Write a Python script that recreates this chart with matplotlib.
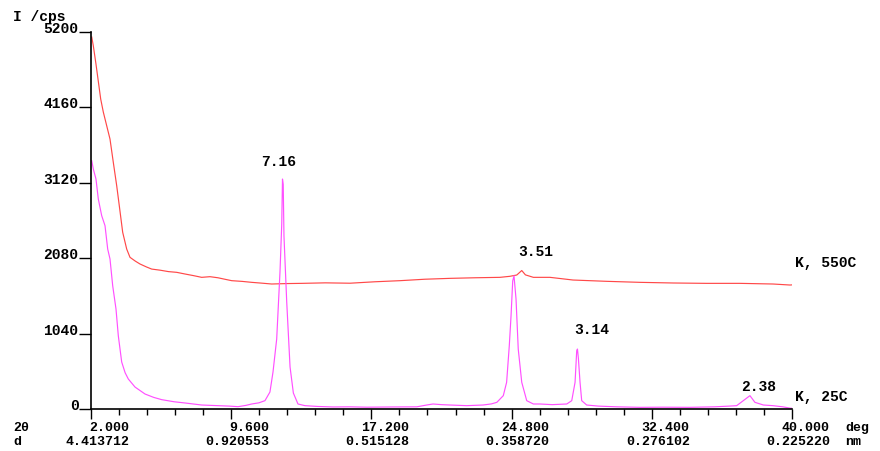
import matplotlib
matplotlib.use("Agg")
import matplotlib.pyplot as plt
import matplotlib.transforms as mtransforms
import numpy as np

# ---- data ----
red_tth = [2.04, 2.125, 2.27, 2.526, 2.667, 2.851, 3.03, 3.209, 3.393, 3.534, 3.718, 3.935,
           4.114, 4.40, 4.656, 5.00, 5.29, 5.74, 6.2, 6.646, 7.096, 7.55, 8.0, 8.45, 8.884,
           9.25, 9.627, 10.2, 10.711, 11.3, 11.795, 12.6, 13.42, 14.7, 16.04, 17.4, 18.75,
           20.1, 21.46, 22.8, 24.17, 24.7, 25.08, 25.35, 25.55, 25.98, 26.88, 28.13, 29.955,
           31.76, 33.565, 35.376, 37.18, 38.97, 39.89, 40.0]
red_int = [5130, 5010, 4757, 4275, 4096, 3907, 3723, 3402, 3080, 2803, 2437, 2206,
           2092, 2040, 2000, 1960, 1930, 1915, 1895, 1885, 1862, 1840, 1816, 1825, 1810,
           1790, 1770, 1760, 1747, 1735, 1724, 1730, 1733, 1740, 1735, 1755, 1770,
           1790, 1802, 1810, 1816, 1830, 1848, 1910, 1850, 1816, 1816, 1779, 1761,
           1747, 1738, 1733, 1733, 1724, 1710, 1712]

mag_tth = [2.04, 2.125, 2.27, 2.396, 2.58, 2.76, 2.905, 3.03, 3.176, 3.355, 3.48, 3.664,
           3.85, 4.022, 4.385, 4.927, 5.4, 5.83, 6.5, 7.096, 8.0, 8.884, 9.5, 9.97, 10.4,
           10.71, 11.1, 11.43, 11.70, 11.866, 12.066, 12.245, 12.34, 12.38, 12.42, 12.46,
           12.61, 12.79, 12.97, 13.22, 13.6, 14.3, 15.12, 16.0, 16.95, 18.3, 19.66, 20.2,
           20.54, 21.0, 21.46, 22.37, 23.25, 23.7, 24.0, 24.35, 24.53, 24.675, 24.77, 24.86,
           24.93, 25.04, 25.16, 25.35, 25.62, 25.98, 26.34, 27.0, 27.79, 28.06, 28.24, 28.33,
           28.37, 28.42, 28.51, 28.60, 28.87, 29.5, 30.5, 31.76, 33.0, 34.47, 35.8, 36.6,
           37.0, 37.36, 37.72, 37.99, 38.45, 38.97, 39.5, 39.89, 40.0]
mag_int = [3424, 3310, 3172, 2896, 2666, 2528, 2206, 2069, 1700, 1379, 1011, 648,
           500, 414, 303, 207, 160, 129, 100, 83, 55, 46, 40, 32, 50,
           69, 85, 115, 234, 510, 965, 1890, 2550, 3172, 3100, 2390,
           1475, 580, 220, 69, 46, 35, 28, 30, 25, 28, 30, 55,
           69, 60, 55, 46, 55, 70, 92, 184, 368, 873, 1287, 1765,
           1838, 1517, 827, 368, 115, 69, 69, 60, 69, 115, 368, 804,
           827, 700, 368, 115, 55, 40, 30, 23, 25, 23, 30, 40,
           46, 115, 184, 92, 55, 46, 30, 12, 10]

x_major = [2.0, 9.6, 17.2, 24.8, 32.4, 40.0]
x_labels = ["2.000", "9.600", "17.200", "24.800", "32.400", "40.000"]
d_labels = ["4.413712", "0.920553", "0.515128", "0.358720", "0.276102", "0.225220"]
y_ticks = [0, 1040, 2080, 3120, 4160, 5200]

peak_text = ["7.16", "3.51", "3.14", "2.38"]
peak_tth = [12.19, 26.12, 29.16, 38.21]
peak_int = [3420, 2179, 1103, 317]

series_names = ["K, 550C", "K, 25C"]
series_label_int = [2027, 179]

# ---- figure ----
FONT = "Liberation Mono"
FS = 10.5
FSX = 9.5
plt.rcParams['font.family'] = [FONT, 'DejaVu Sans Mono']
plt.rcParams['font.weight'] = 'bold'

fig = plt.figure(figsize=(8.8, 4.52), dpi=100)
ax = fig.add_axes([91/880, 1-410/452, (792-91)/880, (410-33)/452])

ax.plot(red_tth, red_int, color='#ff4848', lw=0.85)
ax.plot(mag_tth, mag_int, color='#ff50ff', lw=0.85)

ax.set_xlim(2, 40)
ax.set_ylim(0, 5200)

for s in ['top', 'right']:
    ax.spines[s].set_visible(False)
for s in ['left', 'bottom']:
    ax.spines[s].set_color('black')
    ax.spines[s].set_linewidth(1.2)

ax.set_yticks(y_ticks)
ax.set_yticklabels([str(v) for v in y_ticks])
ax.tick_params(axis='y', direction='out', length=9, width=1.0, pad=0,
               labelsize=FS, colors='black')
for t in ax.get_yticklabels():
    t.set_verticalalignment('baseline')
    t.set_fontweight('bold')

ax.set_xticks(x_major)
ax.set_xticks(np.arange(2.0, 40.01, 1.52), minor=True)
ax.set_xticklabels([])
ax.tick_params(axis='x', which='major', direction='out', length=7, width=1.0)
ax.tick_params(axis='x', which='minor', direction='out', length=4, width=1.0)

ROW1 = -18
ROW2 = -32
base = ax.get_xaxis_transform()
for xv, l1, l2 in zip(x_major, x_labels, d_labels):
    t1 = mtransforms.offset_copy(base, fig=fig, x=38, y=ROW1, units='dots')
    t2 = mtransforms.offset_copy(base, fig=fig, x=38, y=ROW2, units='dots')
    ax.text(xv, 0, l1, transform=t1, ha='right', va='center', fontsize=FSX,
            fontweight='bold', clip_on=False)
    ax.text(xv, 0, l2, transform=t2, ha='right', va='center', fontsize=FSX,
            fontweight='bold', clip_on=False)

fig.text(13/880, 1-(410-ROW1)/452, "2θ", ha='left', va='center', fontsize=FSX, fontweight='bold')
fig.text(13/880, 1-(410-ROW2)/452, "d", ha='left', va='center', fontsize=FSX, fontweight='bold')
fig.text(845/880, 1-(410-ROW1)/452, "deg", ha='left', va='center', fontsize=FSX, fontweight='bold')
fig.text(845/880, 1-(410-ROW2)/452, "nm", ha='left', va='center', fontsize=FSX, fontweight='bold')
fig.text(13/880, 1-17/452, "I /cps", ha='left', va='center', fontsize=FS, fontweight='bold')

for txt, xv, yv in zip(peak_text, peak_tth, peak_int):
    ax.text(xv, yv, txt, ha='center', va='center', fontsize=FS, fontweight='bold')

for name, yv in zip(series_names, series_label_int):
    ax.text(40.16, yv, name, ha='left', va='center', fontsize=FS, fontweight='bold',
            clip_on=False)

fig.savefig("out.png", dpi=100)
